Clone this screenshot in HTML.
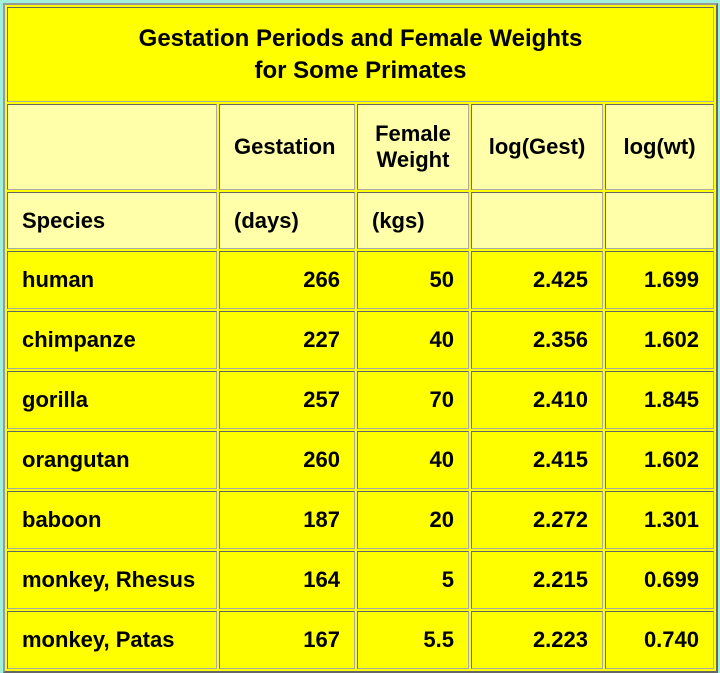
<!DOCTYPE html>
<html><head><meta charset="utf-8"><style>
html,body{margin:0;padding:0;background:#a0f0dc;width:720px;height:672px;overflow:hidden}
table{position:absolute;left:3px;top:3px;width:715px;height:667px;border-collapse:separate;border-spacing:2px;background:#ffff00;border:2px solid;border-color:#999 #666 #666 #999;box-sizing:border-box;font-family:"Liberation Sans",sans-serif;font-weight:bold;font-size:22px;color:#000}
td{border:1px solid;border-color:#666 #aaa #aaa #666;padding:0 14px;}
.t{text-align:center;font-size:24px;line-height:32px}
.h td{background:#ffffaa}
.r{text-align:right}
tr.d{height:58px}
</style></head><body>
<table>
<tr style="height:95px"><td colspan="5" class="t">Gestation Periods and Female Weights<br>for Some Primates</td></tr>
<tr class="h" style="height:86px"><td style="width:180px"></td><td style="width:106px">Gestation</td><td style="width:82px;text-align:center">Female Weight</td><td style="text-align:center;width:102px">log(Gest)</td><td style="text-align:center">log(wt)</td></tr>
<tr class="h" style="height:57px"><td>Species</td><td>(days)</td><td>(kgs)</td><td></td><td></td></tr>
<tr class="d"><td>human</td><td class="r">266</td><td class="r">50</td><td class="r">2.425</td><td class="r">1.699</td></tr>
<tr class="d"><td>chimpanze</td><td class="r">227</td><td class="r">40</td><td class="r">2.356</td><td class="r">1.602</td></tr>
<tr class="d"><td>gorilla</td><td class="r">257</td><td class="r">70</td><td class="r">2.410</td><td class="r">1.845</td></tr>
<tr class="d"><td>orangutan</td><td class="r">260</td><td class="r">40</td><td class="r">2.415</td><td class="r">1.602</td></tr>
<tr class="d"><td>baboon</td><td class="r">187</td><td class="r">20</td><td class="r">2.272</td><td class="r">1.301</td></tr>
<tr class="d"><td>monkey, Rhesus</td><td class="r">164</td><td class="r">5</td><td class="r">2.215</td><td class="r">0.699</td></tr>
<tr class="d"><td>monkey, Patas</td><td class="r">167</td><td class="r">5.5</td><td class="r">2.223</td><td class="r">0.740</td></tr>
</table>
</body></html>
